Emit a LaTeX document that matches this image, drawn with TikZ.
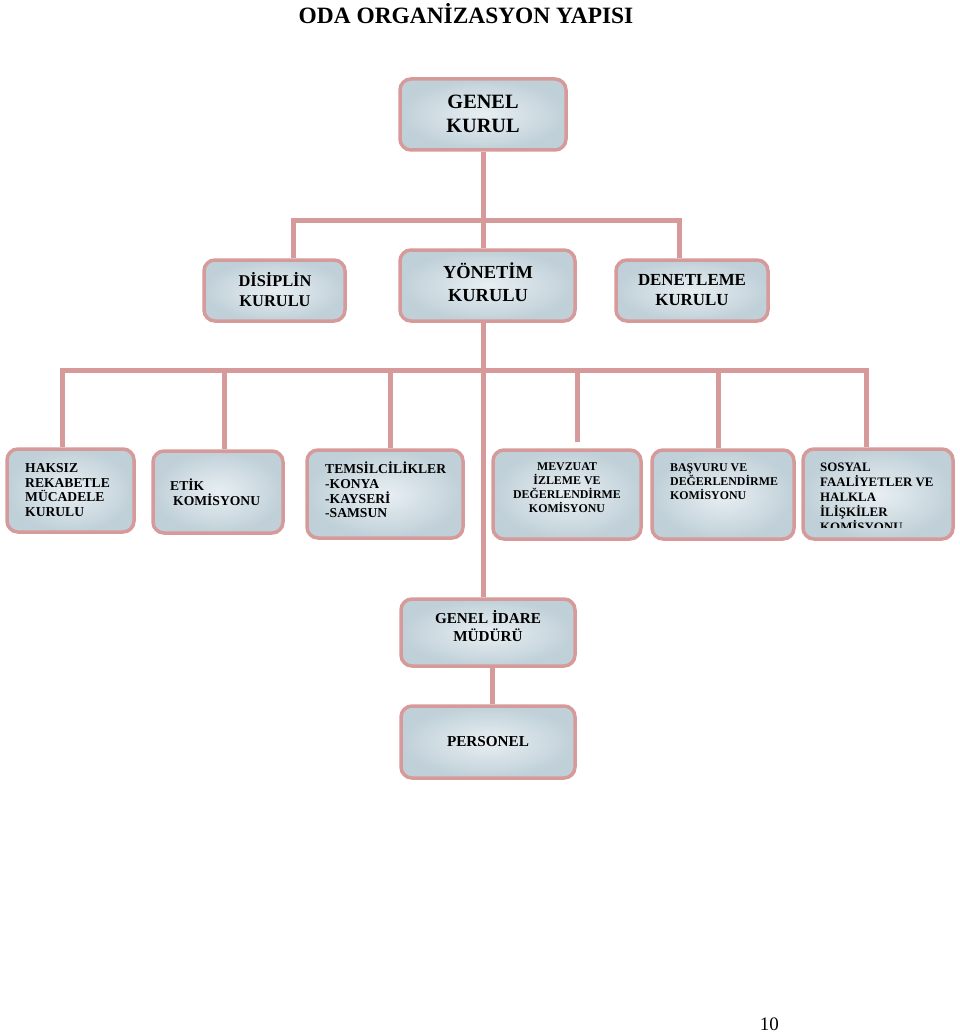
\documentclass[tikz,border=0pt]{standalone}
\usepackage{fontspec}
\setmainfont{Liberation Serif}
\usetikzlibrary{fit}
\definecolor{linkpink}{HTML}{D69A9A}
\definecolor{boxin}{HTML}{E8EFF3}
\definecolor{boxout}{HTML}{C0D0D8}
\newcommand{\obox}[3]{\node [orgbox, fit={(#2) (#3)}] (#1) {}}
\newcommand{\fs}[2]{\fontsize{#1}{#2}\selectfont}

\begin{document}
\begin{tikzpicture}[x=1pt, y=-1pt,
  orgbox/.style={draw=linkpink, line width=3.5pt, rounded corners=11pt, inner sep=0pt, inner color=boxin, outer color=boxout},
  link/.style={draw=linkpink, line width=5pt},
  lbl/.style={inner sep=0pt, align=left, anchor=west},
  clbl/.style={inner sep=0pt, align=center}]
\useasboundingbox (0,0) rectangle (960,1035);

\node [clbl, font=\bfseries\fs{23.4}{28}] (title) at (466,14) {ODA ORGANİZASYON YAPISI};

% boxes
\obox{genel}{400,79}{566,150};
\obox{disiplin}{204,260}{345,321};
\obox{yonetim}{400,250}{575,321};
\obox{denetleme}{616,260}{768,321};
\obox{haksiz}{7,449}{134,532};
\obox{etik}{153,451}{283,533};
\obox{temsil}{307,450}{463,538};
\obox{mevzuat}{493,450}{641,539};
\obox{basvuru}{652,450}{794,539};
\obox{sosyal}{803,449}{953,539};
\obox{idare}{401,599}{575,666};
\obox{personel}{401,706}{575,778};

% connectors
\coordinate (tl) at (293,220);
\coordinate (tr) at (679,220);
\coordinate (ml) at (62,370);
\coordinate (m2) at (224,370);
\coordinate (m3) at (390,370);
\coordinate (m4) at (577,370);
\coordinate (m5) at (718,370);
\coordinate (mr) at (866,370);

\draw[link] (genel.south) -- (genel.south |- yonetim.north);
\draw[link] (disiplin.north -| tl) -- (tl) -- (tr) -- (denetleme.north -| tr);
\draw[link] (yonetim.south -| genel.south) -- (idare.north -| genel.south);
\draw[link] (haksiz.north -| ml) -- (ml) -- (mr) -- (sosyal.north -| mr);
\draw[link] (m2) -- (m2 |- etik.north);
\draw[link] (m3) -- (m3 |- temsil.north);
\draw[link, shorten >=6pt] (m4) -- (m4 |- mevzuat.north);
\draw[link] (m5) -- (m5 |- basvuru.north);
\draw[link] ([xshift=4pt]idare.south) -- ([xshift=4pt]personel.north);

% texts
\node [clbl, font=\bfseries\fs{20.3}{24}] (genelT) at (483,114) {GENEL\\KURUL};
\node [clbl, font=\bfseries\fs{16.4}{20}] (disiplinT) at (275,290) {DİSİPLİN\\KURULU};
\node [clbl, font=\bfseries\fs{18.4}{23}] (yonetimT) at (488,282) {YÖNETİM\\KURULU};
\node [clbl, font=\bfseries\fs{16.9}{20}] (denetlemeT) at (692,290) {DENETLEME\\KURULU};

\node [lbl, font=\bfseries\fs{13.6}{14.7}] (haksizT) at (25,490) {HAKSIZ\\REKABETLE\\MÜCADELE\\KURULU};
\node [lbl, font=\bfseries\fs{13.6}{14.7}] (etikT) at (170,492) {ETİK\\\hspace*{3pt}KOMİSYONU};
\node [lbl, font=\bfseries\fs{13.6}{14.7}] (temsilT) at (325,490) {TEMSİLCİLİKLER\\-KONYA\\-KAYSERİ\\-SAMSUN};
\node [clbl, font=\bfseries\fs{11.9}{14}] (mevzuatT) at (567,488) {MEVZUAT\\İZLEME VE\\DEĞERLENDİRME\\KOMİSYONU};
\node [lbl, font=\bfseries\fs{11.9}{14}] (basvuruT) at (670,482) {BAŞVURU VE\\DEĞERLENDİRME\\KOMİSYONU};
\begin{scope}
\clip (sosyal.north west) rectangle (953,527);
\node [lbl, anchor=north west, font=\bfseries\fs{12.9}{15}] (sosyalT) at (820,463) {SOSYAL\\FAALİYETLER VE\\HALKLA\\İLİŞKİLER\\KOMİSYONU};
\end{scope}

\node [clbl, font=\bfseries\fs{15.2}{18}] (idareT) at (488,626) {GENEL İDARE\\MÜDÜRÜ};
\node [clbl, font=\bfseries\fs{15.2}{18}] (personelT) at (488,742) {PERSONEL};

\node [inner sep=0pt, anchor=base east, font=\fs{19}{22}] (page) at (779,1030) {10};
\end{tikzpicture}
\end{document}
